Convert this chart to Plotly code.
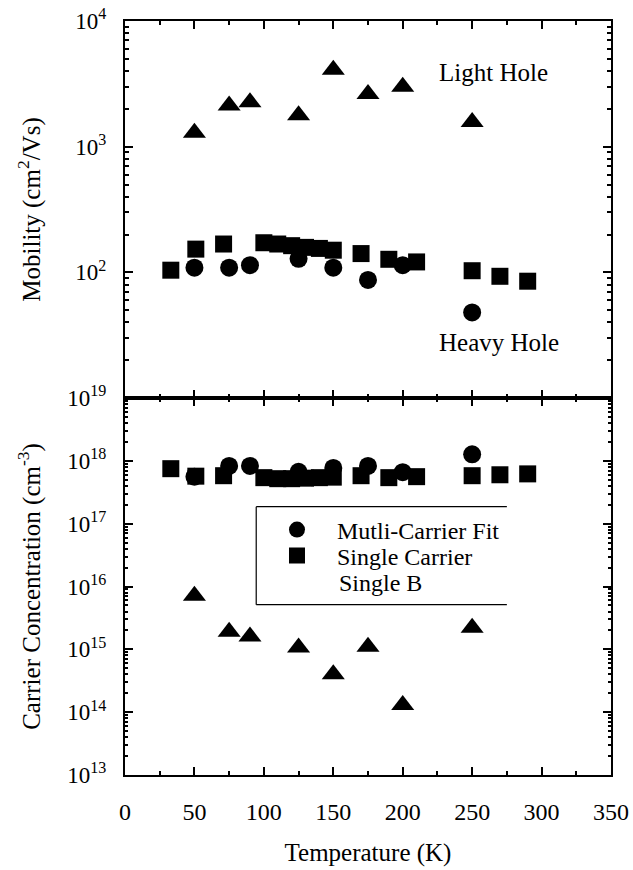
import plotly.graph_objects as go
from plotly.subplots import make_subplots

# Temperatures (K)
T_multi = [50, 75, 90, 125, 150, 175, 200, 250]
T_single = [33, 51, 71, 100, 110, 120, 130, 140, 150, 170, 190, 210, 250, 270, 290]

# Mobility (cm^2/Vs)
mu_light = [1290, 2130, 2260, 1780, 4100, 2620, 3000, 1570]
mu_heavy = [109, 109, 114, 128, 109, 87, 114, 48]
mu_single = [104, 153, 168, 172, 168, 163, 158, 155, 150, 141, 127, 121, 103, 93, 85]

# Carrier concentration (cm^-3)
n_light = [7.1e15, 1.9e15, 1.6e15, 1.07e15, 4.0e14, 1.1e15, 1.3e14, 2.2e15]
n_heavy = [5.6e17, 8.3e17, 8.3e17, 6.7e17, 7.7e17, 8.3e17, 6.6e17, 1.27e18]
n_single = [7.5e17, 5.7e17, 5.8e17, 5.4e17, 5.2e17, 5.2e17, 5.3e17, 5.4e17, 5.5e17,
            5.8e17, 5.4e17, 5.6e17, 5.8e17, 6.0e17, 6.2e17]

x_ticks = [0, 50, 100, 150, 200, 250, 300, 350]
mu_decades = [2, 3, 4]
n_decades = [13, 14, 15, 16, 17, 18, 19]

FONT = "Liberation Serif, Times New Roman, serif"
BLACK = "black"

fig = make_subplots(rows=2, cols=1, vertical_spacing=0.0)

def add_series(row, x, y, symbol, size, name=None, legend=None):
    fig.add_trace(go.Scatter(
        x=x, y=y, mode="markers", name=name, showlegend=legend is not None,
        legend=legend or "legend",
        marker=dict(symbol=symbol, size=size, color=BLACK, line=dict(width=0)),
    ), row=row, col=1)

# mobility panel
add_series(1, T_single, mu_single, "square", 17)
add_series(1, T_multi, mu_heavy, "circle", 18)
add_series(1, T_multi, mu_light, "triangle-up", 20)

# concentration panel
add_series(2, T_single, n_single, "square", 17, "Single Carrier", "legend2")
add_series(2, T_multi, n_heavy, "circle", 18, "Mutli-Carrier Fit", "legend")
add_series(2, T_multi, n_light, "triangle-up", 20)

def minor_vals(lo, hi):
    vals = []
    for d in range(lo, hi):
        for k in range(2, 10):
            vals.append(k * 10 ** d)
    return vals

axis_common = dict(
    showline=True, linewidth=2, linecolor=BLACK, mirror="ticks", automargin=False,
    ticks="inside", tickwidth=2, tickcolor=BLACK, showgrid=False, zeroline=False,
)

x_common = dict(axis_common, range=[0, 350], tickvals=x_ticks, ticklen=8,
                tickfont=dict(family=FONT, size=24, color=BLACK),
                minor=dict(dtick=25, tick0=0, ticks="inside", ticklen=4,
                           tickwidth=2, tickcolor=BLACK, showgrid=False))

fig.update_xaxes(x_common, showticklabels=False, row=1, col=1)
fig.update_xaxes(x_common, showticklabels=True, ticktext=[str(v) for v in x_ticks],
                 ticklabelstandoff=14,
                 title=dict(text="Temperature (K)", font=dict(family=FONT, size=25, color=BLACK),
                            standoff=20),
                 row=2, col=1)

y_font = dict(family=FONT, size=23, color=BLACK)
title_font = dict(family=FONT, size=25, color=BLACK)

fig.update_yaxes(axis_common, type="log", range=[1, 4], ticklen=8, tickfont=y_font,
                 ticklabelstandoff=12,
                 tickvals=[10 ** d for d in mu_decades],
                 ticktext=["10<sup>%d</sup>" % d for d in mu_decades],
                 minor=dict(tickvals=minor_vals(1, 4), ticks="inside", ticklen=4,
                            tickwidth=1.5, tickcolor=BLACK, showgrid=False),
                 title=dict(text="Mobility (cm<sup>2</sup>/Vs)", font=title_font, standoff=28),
                 row=1, col=1)
fig.update_yaxes(axis_common, type="log", range=[13, 19], ticklen=8, tickfont=y_font,
                 ticklabelstandoff=12,
                 tickvals=[10 ** d for d in n_decades],
                 ticktext=["10<sup>%d</sup>" % d for d in n_decades],
                 minor=dict(tickvals=minor_vals(13, 19), ticks="inside", ticklen=3,
                            tickwidth=1.5, tickcolor=BLACK, showgrid=False),
                 title=dict(text="Carrier Concentration (cm<sup>-3</sup>)", font=title_font,
                            standoff=20),
                 row=2, col=1)

# open-sided frame round the legend
box_x0, box_x1 = 94.5, 275
box_y0, box_y1 = 10 ** 15.71, 10 ** 17.27
for x0, y0, x1, y1 in [(box_x0, box_y0, box_x0, box_y1),
                       (box_x0, box_y1, box_x1, box_y1),
                       (box_x0, box_y0, box_x1, box_y0)]:
    fig.add_shape(type="line", x0=x0, y0=y0, x1=x1, y1=y1, xref="x2", yref="y2",
                  line=dict(color=BLACK, width=1.2))

ann_font = dict(family=FONT, size=25, color=BLACK)
fig.add_annotation(text="Light Hole", x=224.5, y=3.594, xref="x", yref="y",
                   xanchor="left", yanchor="middle", showarrow=False, font=ann_font)
fig.add_annotation(text="Heavy Hole", x=224.5, y=1.44, xref="x", yref="y",
                   xanchor="left", yanchor="middle", showarrow=False, font=ann_font)
fig.add_annotation(text="Single B", x=152.5, y=16.06, xref="x2", yref="y2",
                   xanchor="left", yanchor="middle", showarrow=False,
                   font=dict(family=FONT, size=24, color=BLACK))

legend_style = dict(xanchor="left", yanchor="middle", bgcolor="rgba(0,0,0,0)",
                    borderwidth=0, font=dict(family=FONT, size=24, color=BLACK),
                    itemwidth=70)

fig.update_layout(
    width=633, height=870,
    margin=dict(l=125, r=22, t=21, b=95, autoexpand=False),
    paper_bgcolor="white", plot_bgcolor="white",
    font=dict(family=FONT, color=BLACK),
    showlegend=True,
    legend=dict(legend_style, x=0.2716, y=0.325),
    legend2=dict(legend_style, x=0.2716, y=0.2905),
)

fig.write_html("out.html")
